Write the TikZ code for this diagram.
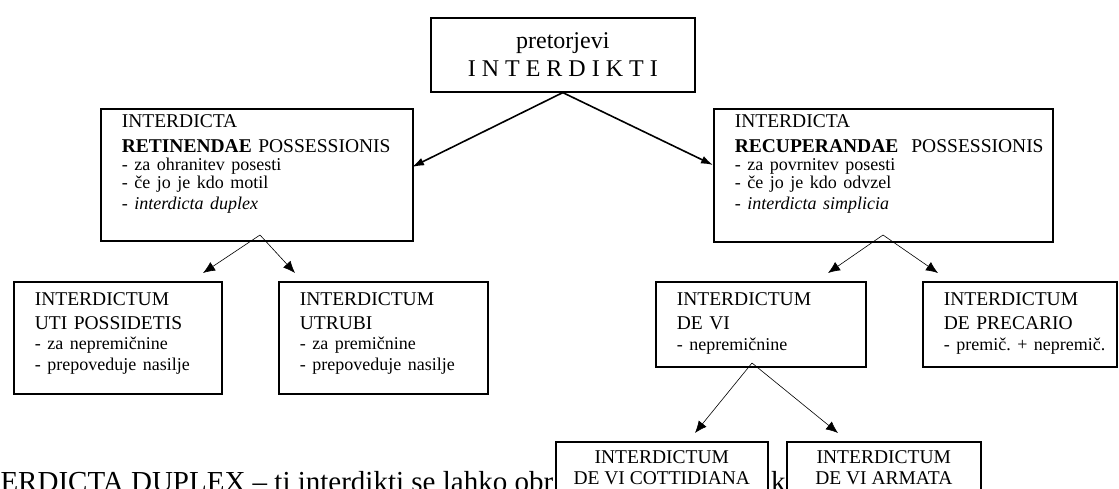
\documentclass[tikz,border=0pt]{standalone}
\usepackage{fontspec}
\setmainfont{Liberation Serif}
\usetikzlibrary{arrows.meta}

\lineskiplimit=-100pt
\newcommand{\topfont}{\fontsize{24}{28}\selectfont}
\newcommand{\headfont}{\fontsize{19.5}{21}\selectfont}
\newcommand{\listfont}{\fontsize{18}{19.5}\selectfont}
\newcommand{\uplistfont}{\fontsize{18}{18}\selectfont}
\newcommand{\boxend}[1]{\rule[-#1]{0pt}{#1}}

\begin{document}
\begin{tikzpicture}[x=1pt, y=-1pt,
                    box/.style = {draw, line width=1.6pt, fill=white, anchor=north west,
                                  align=left, inner xsep=21pt, inner ysep=6pt, font=\headfont},
                    lowbox/.style = {box, inner ysep=11pt},
                    cbox/.style = {draw, line width=1.6pt, fill=white, anchor=north west,
                                   align=center, inner sep=0pt, font=\headfont},
                    big/.style = {-{Latex[length=12pt, width=8pt]}, line width=1.6pt},
                    thin/.style = {-{Latex[length=12pt, width=10pt]}, line width=0.6pt}]
  \clip (0,0) rectangle (1119,488);

  % text of the page below the boxes
  \node [anchor=base west, inner sep=0pt, font=\fontsize{29}{32}\selectfont] (dup) at (-48,491)
        {INTERDICTA DUPLEX – ti interdikti se lahko obr};
  \node [anchor=base west, inner sep=0pt, font=\fontsize{29}{32}\selectfont] (dupk) at (771,491) {k};

  \node [cbox, minimum width=264pt, minimum height=74pt, font=\topfont] (top) at (430,17)
        {pretorjevi\\I N T E R D I K T I};

  \node [box, text width=270pt] (ret) at (100,108)
        {INTERDICTA\\[4pt] \mbox{\textbf{RETINENDAE} POSSESSIONIS}\\ \uplistfont
         - za ohranitev posesti\\ - če jo je kdo motil\\ - \textit{interdicta duplex}\boxend{25pt}};
  \node [box, text width=297pt] (rec) at (713,108)
        {INTERDICTA\\[4pt] \mbox{\textbf{RECUPERANDAE}\ \ POSSESSIONIS}\\ \uplistfont
         - za povrnitev posesti\\ - če jo je kdo odvzel\\ - \textit{interdicta simplicia}\boxend{26pt}};

  \node [lowbox, text width=166pt] (uti) at (13,281)
        {INTERDICTUM\\[3pt] \mbox{UTI POSSIDETIS}\\ \listfont
         - za nepremičnine\\ \mbox{- prepoveduje nasilje}\boxend{13pt}};
  \node [lowbox, text width=167pt] (utr) at (278,281)
        {INTERDICTUM\\[3pt] UTRUBI\\ \listfont
         - za premičnine\\ \mbox{- prepoveduje nasilje}\boxend{13pt}};
  \node [lowbox, text width=168pt] (devi) at (655,281)
        {INTERDICTUM\\[3pt] DE VI\\ \listfont - nepremičnine\boxend{5pt}};
  \node [lowbox, text width=152pt] (prec) at (922,281)
        {INTERDICTUM\\[3pt] \mbox{DE PRECARIO}\\ \listfont \mbox{- premič.\ + nepremič.}\boxend{5pt}};

  \node [cbox, minimum width=212pt, minimum height=52pt] (cott) at (555,441)
        {INTERDICTUM\\DE VI COTTIDIANA};
  \node [cbox, minimum width=194pt, minimum height=52pt] (arm) at (786,441)
        {INTERDICTUM\\DE VI ARMATA};

  \coordinate (retIn) at (412,167);
  \coordinate (recIn) at (713,165);
  \coordinate (retA) at (260,235);
  \coordinate (utiIn) at (203,273);
  \coordinate (utrIn) at (295,273);
  \coordinate (recA) at (883,235);
  \coordinate (deviIn) at (828,273);
  \coordinate (precIn) at (938,273);
  \coordinate (deviA) at (752,363);
  \coordinate (cottIn) at (695,433);
  \coordinate (armIn) at (838,433);

  \draw [big] (top.south) -- (retIn);
  \draw [big] (top.south) -- (recIn);
  \draw [thin] (retA) -- (utiIn);
  \draw [thin] (retA) -- (utrIn);
  \draw [thin] (recA) -- (deviIn);
  \draw [thin] (recA) -- (precIn);
  \draw [thin] (deviA) -- (cottIn);
  \draw [thin] (deviA) -- (armIn);
\end{tikzpicture}
\end{document}
